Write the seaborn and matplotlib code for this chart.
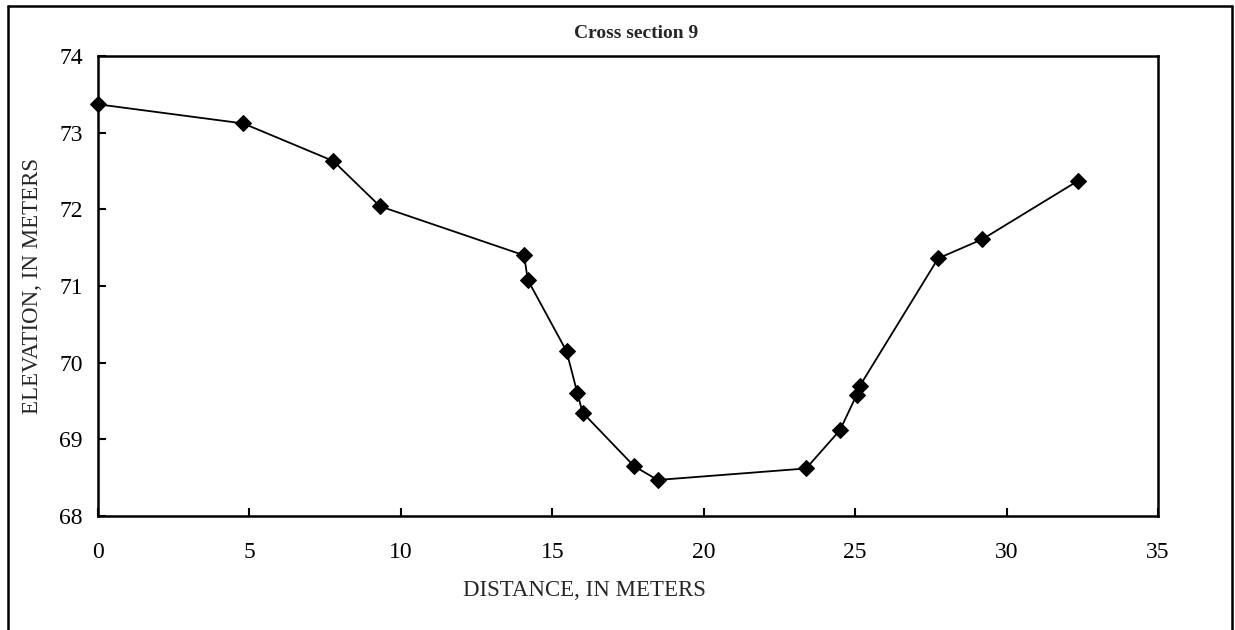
import matplotlib
matplotlib.use("Agg")
import matplotlib.pyplot as plt
import seaborn as sns
import pandas as pd
from matplotlib.lines import Line2D

# Surveyed points across the channel
distance = [0.0, 4.80, 7.77, 9.31, 14.07, 14.19, 15.47, 15.83, 16.00, 17.70,
            18.48, 23.38, 24.50, 25.05, 25.16, 27.74, 29.20, 32.35]
elevation = [73.37, 73.12, 72.63, 72.04, 71.40, 71.08, 70.15, 69.60, 69.35, 68.65,
             68.47, 68.62, 69.12, 69.58, 69.70, 71.36, 71.61, 72.37]

x_ticks = [0, 5, 10, 15, 20, 25, 30, 35]
y_ticks = [68, 69, 70, 71, 72, 73, 74]

title = "Cross section 9"
x_label = "DISTANCE, IN METERS"
y_label = "ELEVATION, IN METERS"

sns.set_style("white")
plt.rcParams["font.family"] = ["Liberation Serif", "DejaVu Serif"]

W, H = 1235, 630
fig = plt.figure(figsize=(W / 100, H / 100), dpi=100)
ax = fig.add_axes([98 / W, 1 - 516 / H, (1158 - 98) / W, (516 - 56) / H])

df = pd.DataFrame({"distance": distance, "elevation": elevation})
sns.lineplot(data=df, x="distance", y="elevation", sort=False, ax=ax,
             color="black", linewidth=1.3, marker="D", markersize=8,
             markeredgecolor="black", markerfacecolor="black", clip_on=False,
             zorder=5)

ax.set_xlim(0, 35)
ax.set_ylim(68, 74)
ax.set_xticks(x_ticks)
ax.set_yticks(y_ticks)
ax.set_xticklabels([str(t) for t in x_ticks])
ax.set_yticklabels([str(t) for t in y_ticks])

for side in ax.spines.values():
    side.set_visible(True)
    side.set_color("black")
    side.set_linewidth(1.8)

ax.tick_params(axis="both", direction="in", length=6, width=1.5,
               colors="black", labelsize=17)
ax.tick_params(axis="x", pad=19, bottom=True, top=False)
ax.tick_params(axis="y", pad=11, left=True, right=False)

ax.set_xlabel(x_label, fontsize=16.5, va="center")
ax.xaxis.set_label_coords((584 - 98) / 1060, -(590 - 516) / 460)
ax.set_ylabel(y_label, fontsize=16.5, va="center")
ax.yaxis.set_label_coords((33 - 98) / 1060, 0.5)

fig.text(636 / W, 1 - 33 / H, title, ha="center", va="center",
         fontsize=14, fontweight="bold")

# Frame around the chart area (open at the bottom edge of the page)
lw = 1.8
fig.add_artist(Line2D([8 / W, 8 / W], [-0.05, 1 - 6 / H], transform=fig.transFigure,
                      color="black", linewidth=lw))
fig.add_artist(Line2D([8 / W, 1232 / W], [1 - 6 / H, 1 - 6 / H], transform=fig.transFigure,
                      color="black", linewidth=lw))
fig.add_artist(Line2D([1232 / W, 1232 / W], [-0.05, 1 - 6 / H], transform=fig.transFigure,
                      color="black", linewidth=lw))

fig.savefig("out.png", dpi=100, facecolor="white")
